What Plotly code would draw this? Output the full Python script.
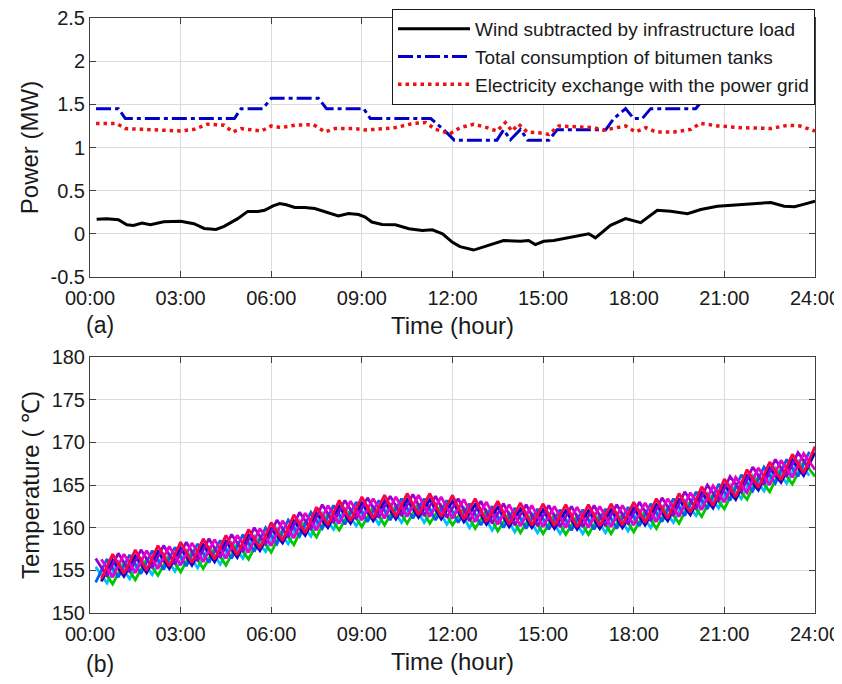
import numpy as np
import plotly.graph_objects as go

# ---------------- Panel (a) data ----------------
wind_t = [0.22, 0.56, 0.94, 1.22, 1.44, 1.72, 2.0, 2.44, 3.0, 3.44, 3.78, 4.17, 4.44, 4.89,
          5.22, 5.56, 5.78, 6.06, 6.28, 6.5, 6.78, 7.11, 7.44, 7.78, 8.22, 8.56, 8.89, 9.11,
          9.33, 9.67, 10.11, 10.56, 11.0, 11.33, 11.67, 12.0, 12.25, 12.7, 13.14, 13.69, 14.25,
          14.52, 14.74, 15.02, 15.35, 15.79, 16.35, 16.51, 16.73, 17.23, 17.73, 18.23, 18.78,
          19.22, 19.78, 20.22, 20.77, 21.33, 21.77, 22.21, 22.54, 22.98, 23.32, 23.65, 24.0]
wind_p = [0.168, 0.176, 0.164, 0.105, 0.098, 0.125, 0.105, 0.14, 0.145, 0.117, 0.062, 0.05, 0.086, 0.176,
          0.26, 0.258, 0.273, 0.324, 0.35, 0.336, 0.305, 0.305, 0.293, 0.254, 0.207, 0.234, 0.223, 0.195,
          0.137, 0.109, 0.105, 0.059, 0.039, 0.047, 0.0, -0.098, -0.148, -0.188, -0.137, -0.078, -0.086,
          -0.078, -0.125, -0.086, -0.078, -0.047, -0.008, 0.0, -0.047, 0.098, 0.176, 0.129, 0.273,
          0.262, 0.234, 0.281, 0.32, 0.332, 0.344, 0.359, 0.363, 0.32, 0.313, 0.344, 0.379]

bitumen_t = [0.2, 0.94, 1.17, 4.78, 5.0, 5.72, 6.0, 7.56, 7.83, 9.06, 9.28, 11.28, 11.7, 12.06,
             13.47, 13.69, 13.92, 14.25, 14.49, 15.19, 15.46, 17.07, 17.34, 17.73, 18.0, 18.28,
             18.56, 20.05, 20.33, 24.0]
bitumen_p = [1.45, 1.45, 1.335, 1.335, 1.45, 1.45, 1.57, 1.57, 1.45, 1.45, 1.335, 1.335, 1.21, 1.085,
             1.085, 1.205, 1.09, 1.21, 1.085, 1.085, 1.205, 1.205, 1.335, 1.45, 1.335, 1.335,
             1.45, 1.45, 1.57, 1.57]

grid_t = [0.2, 0.89, 1.17, 2.22, 3.0, 3.44, 3.89, 4.44, 4.72, 5.0, 5.28, 5.67, 6.0, 6.33, 6.78,
          7.39, 7.78, 8.11, 8.78, 9.11, 9.44, 10.11, 10.67, 11.11, 11.44, 11.92, 12.25, 12.7,
          13.14, 13.47, 13.75, 13.97, 14.19, 14.47, 14.86, 15.19, 15.52, 16.0, 16.68, 17.0,
          17.45, 17.73, 18.06, 18.4, 18.73, 19.33, 19.9, 20.2, 20.77, 21.56, 22.55, 23.1, 23.5, 24.0]
grid_p = [1.277, 1.277, 1.219, 1.203, 1.191, 1.21, 1.27, 1.258, 1.18, 1.219, 1.21, 1.191, 1.25, 1.23,
          1.258, 1.266, 1.18, 1.219, 1.219, 1.203, 1.21, 1.23, 1.277, 1.289, 1.21, 1.16, 1.23, 1.27,
          1.23, 1.19, 1.289, 1.19, 1.27, 1.18, 1.17, 1.152, 1.25, 1.238, 1.23, 1.2, 1.23, 1.25, 1.18,
          1.23, 1.18, 1.18, 1.21, 1.28, 1.25, 1.23, 1.22, 1.258, 1.25, 1.19]

# ---------------- Panel (b) data ----------------
# sampling instants (hours) of the tank temperature records
time_a = [round(0.375 * k, 4) for k in range(1, 65)]
time_b = [round(0.1875 + 0.375 * k, 4) for k in range(0, 64)]

tank_cyan = [155.4, 153.5, 156.0, 154.0, 156.4, 154.5, 156.9, 154.9, 157.3, 155.3, 157.7, 155.7, 158.2, 156.4,
             159.0, 157.2, 159.9, 158.1, 160.8, 159.0, 161.7, 159.8, 162.2, 160.2, 162.5, 160.4, 162.7, 160.6,
             162.9, 160.6, 162.7, 160.4, 162.4, 160.0, 162.1, 159.7, 161.8, 159.5, 161.7, 159.4, 161.6, 159.3,
             161.5, 159.3, 161.6, 159.4, 161.7, 159.6, 162.0, 160.0, 162.5, 160.6, 163.2, 161.4, 164.0, 162.3,
             165.0, 163.4, 166.1, 164.3, 167.0, 165.2, 167.8, 166.1]
tank_green = [155.3, 153.4, 155.9, 153.9, 156.3, 154.4, 156.8, 154.8, 157.2, 155.2, 157.6, 155.6, 158.1, 156.3,
              158.9, 157.1, 159.8, 158.0, 160.7, 158.9, 161.6, 159.7, 162.1, 160.1, 162.4, 160.3, 162.6, 160.5,
              162.8, 160.5, 162.6, 160.3, 162.3, 159.9, 162.0, 159.6, 161.7, 159.4, 161.6, 159.3, 161.5, 159.2,
              161.4, 159.2, 161.5, 159.3, 161.6, 159.5, 161.9, 159.9, 162.4, 160.5, 163.1, 161.3, 163.9, 162.2,
              164.9, 163.3, 166.0, 164.2, 166.9, 165.1, 167.7, 166.0]
tank_blue = [153.6, 156.3, 154.2, 156.8, 154.6, 157.3, 155.1, 157.7, 155.5, 158.1, 155.9, 158.5, 156.4, 159.2,
             157.2, 160.0, 158.1, 160.9, 159.0, 161.8, 159.9, 162.6, 160.4, 163.0, 160.7, 163.2, 160.9, 163.4,
             161.1, 163.4, 160.9, 163.2, 160.6, 162.8, 160.3, 162.5, 160.0, 162.3, 159.9, 162.2, 159.8, 162.1,
             159.7, 162.1, 159.8, 162.2, 159.9, 162.4, 160.2, 162.8, 160.7, 163.4, 161.4, 164.2, 162.2, 165.1,
             163.2, 166.2, 164.3, 167.1, 165.2, 168.0, 166.0, 168.9]
tank_navy = [153.7, 156.2, 154.3, 156.7, 154.7, 157.2, 155.2, 157.6, 155.6, 158.0, 156.0, 158.4, 156.5, 159.1,
             157.3, 159.9, 158.2, 160.8, 159.1, 161.7, 160.0, 162.5, 160.5, 162.9, 160.8, 163.1, 161.0, 163.3,
             161.2, 163.3, 161.0, 163.1, 160.7, 162.7, 160.4, 162.4, 160.1, 162.2, 160.0, 162.1, 159.9, 162.0,
             159.8, 162.0, 159.9, 162.1, 160.0, 162.3, 160.3, 162.7, 160.8, 163.3, 161.5, 164.1, 162.3, 165.0,
             163.3, 166.1, 164.4, 167.0, 165.3, 167.9, 166.1, 168.8]
tank_purple = [156.4, 154.3, 157.0, 154.8, 157.4, 155.3, 157.9, 155.7, 158.3, 156.1, 158.7, 156.5, 159.2, 157.2,
               160.0, 158.0, 160.9, 158.9, 161.8, 159.8, 162.7, 160.6, 163.2, 161.0, 163.5, 161.2, 163.7, 161.4,
               163.9, 161.4, 163.7, 161.2, 163.4, 160.8, 163.1, 160.5, 162.8, 160.3, 162.7, 160.2, 162.6, 160.1,
               162.5, 160.1, 162.6, 160.2, 162.7, 160.4, 163.0, 160.8, 163.5, 161.4, 164.2, 162.2, 165.0, 163.1,
               166.0, 164.2, 167.1, 165.1, 168.0, 166.0, 168.8, 166.9]
tank_magenta = [156.3, 154.2, 156.9, 154.7, 157.3, 155.2, 157.8, 155.6, 158.2, 156.0, 158.6, 156.4, 159.1, 157.1,
                159.9, 157.9, 160.8, 158.8, 161.7, 159.7, 162.6, 160.5, 163.1, 160.9, 163.4, 161.1, 163.6, 161.3,
                163.8, 161.3, 163.6, 161.1, 163.3, 160.7, 163.0, 160.4, 162.7, 160.2, 162.6, 160.1, 162.5, 160.0,
                162.4, 160.0, 162.5, 160.1, 162.6, 160.3, 162.9, 160.7, 163.4, 161.3, 164.1, 162.1, 164.9, 163.0,
                165.9, 164.1, 167.0, 165.0, 167.9, 165.9, 168.7, 166.8]
tank_red = [154.0, 156.9, 154.6, 157.4, 155.0, 157.9, 155.5, 158.3, 155.9, 158.7, 156.3, 159.1, 156.8, 159.8,
            157.6, 160.6, 158.5, 161.5, 159.4, 162.4, 160.3, 163.2, 160.8, 163.6, 161.1, 163.8, 161.3, 164.0,
            161.5, 164.0, 161.3, 163.8, 161.0, 163.4, 160.7, 163.1, 160.4, 162.9, 160.3, 162.8, 160.2, 162.7,
            160.1, 162.7, 160.2, 162.8, 160.3, 163.0, 160.6, 163.4, 161.1, 164.0, 161.8, 164.8, 162.6, 165.7,
            163.6, 166.8, 164.7, 167.7, 165.6, 168.6, 166.4, 169.5]

tanks = [
    (time_b, tank_cyan, "#00BFFF"),
    (time_a, tank_green, "#00C800"),
    (time_b, tank_blue, "#0064F0"),
    (time_a, tank_navy, "#1400C8"),
    (time_b, tank_purple, "#9600D2"),
    (time_a, tank_magenta, "#E600C8"),
    (time_a, tank_red, "#FF0046"),
]

x_ticks = [0, 3, 6, 9, 12, 15, 18, 21, 24]
x_labels = ["00:00", "03:00", "06:00", "09:00", "12:00", "15:00", "18:00", "21:00", "24:00"]
p_ticks = [-0.5, 0, 0.5, 1, 1.5, 2, 2.5]
p_labels = ["-0.5", "0", "0.5", "1", "1.5", "2", "2.5"]
t_ticks = [150, 155, 160, 165, 170, 175, 180]
t_labels = ["150", "155", "160", "165", "170", "175", "180"]

FONT = "Arial, 'Liberation Sans', sans-serif"
TXT = "#1a1a1a"

fig = go.Figure()

fig.add_trace(go.Scatter(x=wind_t, y=wind_p, mode="lines", name="Wind subtracted by infrastructure load",
                         line=dict(color="black", width=3), xaxis="x", yaxis="y"))
fig.add_trace(go.Scatter(x=bitumen_t, y=bitumen_p, mode="lines", name="Total consumption of bitumen tanks",
                         line=dict(color="#0000C8", width=3, dash="15px,4px,4px,4px"), xaxis="x", yaxis="y"))
fig.add_trace(go.Scatter(x=grid_t, y=grid_p, mode="lines", name="Electricity exchange with the power grid",
                         line=dict(color="#EE1111", width=3.5, dash="3.5px,4px"), xaxis="x", yaxis="y"))

for tx, ty, col in tanks:
    fig.add_trace(go.Scatter(x=tx, y=ty, mode="lines", showlegend=False,
                             line=dict(color=col, width=2.8), xaxis="x2", yaxis="y2"))

axis_common = dict(showline=True, linecolor="#404040", linewidth=1, mirror="ticks",
                   ticks="inside", ticklen=6, tickcolor="#404040", showgrid=True,
                   gridcolor="#DCDCDC", gridwidth=1, zeroline=False, automargin=False,
                   ticklabeloverflow="allow",
                   tickfont=dict(family=FONT, size=20, color=TXT))

# plot areas (figure pixels): top panel y 10..269, bottom panel y 349..605, x 82..807
PT, PB = 10, 605
top_bottom = (PB - 269) / (PB - PT)
bot_top = (PB - 349) / (PB - PT)

fig.update_layout(
    template="none",
    width=842, height=684,
    margin=dict(l=82, r=35, t=PT, b=684 - PB, autoexpand=False),
    paper_bgcolor="white", plot_bgcolor="white",
    font=dict(family=FONT, color=TXT),
    xaxis=dict(domain=[0, 1], anchor="y", range=[0, 24], tickvals=x_ticks, ticktext=x_labels,
               ticklabelstandoff=3,
               title=dict(text="Time (hour)", font=dict(size=24), standoff=9), **axis_common),
    yaxis=dict(domain=[top_bottom, 1], anchor="x", range=[-0.5, 2.5], tickvals=p_ticks, ticktext=p_labels,
               title=dict(text="Power (MW)", font=dict(size=24), standoff=5), **axis_common),
    xaxis2=dict(domain=[0, 1], anchor="y2", range=[0, 24], tickvals=x_ticks, ticktext=x_labels,
                ticklabelstandoff=3,
                title=dict(text="Time (hour)", font=dict(size=24), standoff=9), **axis_common),
    yaxis2=dict(domain=[0, bot_top], anchor="x2", range=[150, 180], tickvals=t_ticks, ticktext=t_labels,
                title=dict(text="Temperature ( \u2103)", font=dict(size=24), standoff=5), **axis_common),
    legend=dict(x=1, xanchor="right", y=(PB - 1) / (PB - PT), yanchor="top",
                bgcolor="white", bordercolor=TXT, borderwidth=1,
                font=dict(family=FONT, size=19, color=TXT), itemwidth=72,
                tracegroupgap=0),
    showlegend=True,
    annotations=[
        dict(text="(a)", xref="paper", yref="paper", x=(92 - 82) / 725, y=(PB - 317) / (PB - PT),
             showarrow=False, font=dict(family=FONT, size=23, color=TXT),
             xanchor="center", yanchor="middle"),
        dict(text="(b)", xref="paper", yref="paper", x=(92 - 82) / 725, y=(PB - 656) / (PB - PT),
             showarrow=False, font=dict(family=FONT, size=23, color=TXT),
             xanchor="center", yanchor="middle"),
    ],
)

fig.write_html("out.html")
